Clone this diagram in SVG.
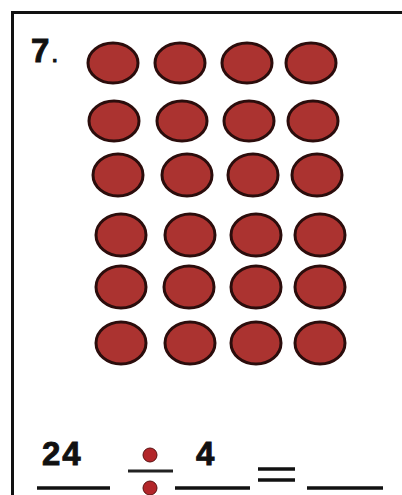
<svg xmlns="http://www.w3.org/2000/svg" width="402" height="495" viewBox="0 0 402 495">
<style>
.dot{fill:#ab3330;stroke:#2b0d0c;stroke-width:3}
.t{font-family:"Liberation Sans",Arial,sans-serif;font-weight:bold;fill:#111;stroke:#111;stroke-width:0.9}
.ln{stroke:#111;stroke-width:3.5}
.div{fill:#b3262a;stroke:#5a1010;stroke-width:1}
</style>
<rect width="402" height="495" fill="#ffffff"/>
<g id="frame">
<line x1="12.5" y1="12.5" x2="402" y2="12.5" stroke="#111" stroke-width="3"/>
<line x1="12.5" y1="11" x2="12.5" y2="495" stroke="#111" stroke-width="3"/>
</g>
<g id="label"><text class="t" x="31" y="62" font-size="33">7<tspan font-size="18" dx="3">.</tspan></text></g>
<g id="dots">
<ellipse class="dot" cx="113" cy="63" rx="25" ry="20"/>
<ellipse class="dot" cx="180" cy="63" rx="25" ry="20"/>
<ellipse class="dot" cx="247" cy="63" rx="25" ry="20"/>
<ellipse class="dot" cx="311" cy="63" rx="25" ry="20"/>
<ellipse class="dot" cx="114" cy="121" rx="25" ry="20"/>
<ellipse class="dot" cx="182" cy="121" rx="25" ry="20"/>
<ellipse class="dot" cx="249" cy="121" rx="25" ry="20"/>
<ellipse class="dot" cx="313" cy="121" rx="25" ry="20"/>
<ellipse class="dot" cx="118" cy="175" rx="25" ry="21"/>
<ellipse class="dot" cx="187" cy="175" rx="25" ry="21"/>
<ellipse class="dot" cx="253" cy="175" rx="25" ry="21"/>
<ellipse class="dot" cx="317" cy="175" rx="25" ry="21"/>
<ellipse class="dot" cx="121" cy="235" rx="25" ry="21"/>
<ellipse class="dot" cx="190" cy="235" rx="25" ry="21"/>
<ellipse class="dot" cx="256" cy="235" rx="25" ry="21"/>
<ellipse class="dot" cx="320" cy="235" rx="25" ry="21"/>
<ellipse class="dot" cx="121" cy="287" rx="25" ry="21"/>
<ellipse class="dot" cx="189" cy="287" rx="25" ry="21"/>
<ellipse class="dot" cx="256" cy="287" rx="25" ry="21"/>
<ellipse class="dot" cx="320" cy="287" rx="25" ry="21"/>
<ellipse class="dot" cx="121" cy="343" rx="25" ry="21"/>
<ellipse class="dot" cx="190" cy="343" rx="25" ry="21"/>
<ellipse class="dot" cx="256" cy="343" rx="25" ry="21"/>
<ellipse class="dot" cx="320" cy="343" rx="25" ry="21"/>
</g>
<g id="equation">
<text class="t" x="42" y="465" font-size="33" letter-spacing="2">24</text>
<line class="ln" x1="37" y1="488" x2="110" y2="488"/>
<circle class="div" cx="150" cy="455" r="7"/>
<line x1="128" y1="471" x2="173" y2="471" stroke="#222" stroke-width="3"/>
<circle class="div" cx="150" cy="488" r="7"/>
<text class="t" x="196" y="465" font-size="33">4</text>
<line class="ln" x1="175" y1="488" x2="250" y2="488"/>
<line class="ln" x1="258" y1="469" x2="295" y2="469"/>
<line class="ln" x1="258" y1="480" x2="295" y2="480"/>
<line class="ln" x1="307" y1="488" x2="383" y2="488"/>
</g>
</svg>
